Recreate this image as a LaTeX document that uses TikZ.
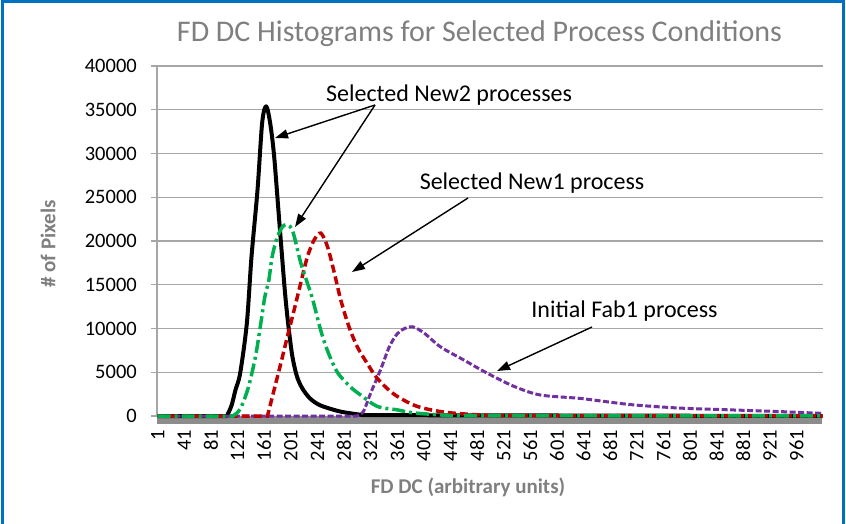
\documentclass[tikz,border=0pt]{standalone}
\usepackage{fontspec}
\setmainfont{Carlito}
\usepackage{tikz}
\usetikzlibrary{arrows.meta}

\definecolor{framblue}{HTML}{0070C0}
\definecolor{titlegray}{HTML}{7F7F7F}
\definecolor{gridgray}{HTML}{A6A6A6}
\definecolor{bargray}{HTML}{8C8C8C}
\definecolor{fabpurple}{HTML}{7030A0}
\definecolor{newred}{HTML}{C00000}
\definecolor{newgreen}{HTML}{00B050}

\tikzset{
  grid line/.style={gridgray, line width=1.2pt},
  ticklabel/.style={font=\fontsize{20.5}{22}\selectfont, text=black, inner sep=0pt},
  axistitle/.style={font=\bfseries\fontsize{21}{23}\selectfont, text=titlegray, inner sep=0pt},
  note/.style={font=\fontsize{24}{26}\selectfont, inner sep=0pt},
  pointer/.style={-{Triangle[length=13pt,width=9pt]}, line width=1.4pt},
  new2solid/.style={black, line width=4pt, line join=round},
  new2dashdot/.style={newgreen, line width=3.5pt, dash pattern=on 13pt off 4pt on 3pt off 4pt},
  new1dash/.style={newred, line width=3.5pt, dash pattern=on 8pt off 4pt},
  fab1dash/.style={fabpurple, line width=3pt, dash pattern=on 6pt off 2.5pt},
}

\begin{document}
\begin{tikzpicture}[x=1pt,y=1pt]
  \useasboundingbox (0,0) rectangle (846,523);
  % chart frame
  \draw[framblue, line width=3pt] (2,-10) -- (2,521) -- (843,521) -- (843,-10);

  \node[font=\fontsize{30}{32}\selectfont, text=titlegray, inner sep=0pt, anchor=base]
    (title) at (479.5,481) {FD DC Histograms for Selected Process Conditions};

  % axis bar under the plot
  \fill[bargray] (157,99) rectangle (822,107);

  \begin{scope}[shift={(157,107)}, x=0.6655pt, y=8.75pt]
    % grid and value axis
    \foreach \v in {5,10,...,40}
      \draw[grid line] (0,\v) -- (1000,\v);
    \draw[grid line] (0,0) -- (0,40);
    \foreach \v/\lbl in {0/0,5/5000,10/10000,15/15000,20/20000,25/25000,30/30000,35/35000,40/40000} {
      \draw[grid line] ([xshift=-6pt]0,\v) -- (0,\v);
      \node[ticklabel, anchor=east] (ylab\v) at ([xshift=-20pt]0,\v) {\lbl};
    }
    % category labels
    \foreach \c in {1,41,...,961}
      \node[ticklabel, rotate=90, anchor=east] (xlab\c) at ([yshift=-14pt]\c,0) {\c};

    % Selected New2, solid run
    \draw[new2solid] (1,0) -- plot[smooth] coordinates {(105,0) (112,1.2) (118,3.0) (125,4.9)
      (135,10.6) (142,18.2) (151,25.8) (158,33.5) (164,35.4) (170,33.5) (176,29.7)
      (184,22.0) (192,14.4) (197,10.6) (203,7.0) (210,4.6) (218,3.2) (230,2.0) (246,1.2)
      (276,0.5) (310,0.1)} -- (1000,0);
    % Initial Fab1
    \draw[fab1dash] (1,0) -- plot[smooth] coordinates {(300,0) (310,0.5) (321,2.6) (336,5.3)
      (349,7.9) (361,9.4) (372,10.0) (384,10.2) (401,9.5) (426,7.9) (461,6.4) (496,4.9)
      (536,3.4) (576,2.4) (637,2.0) (712,1.3) (787,0.9) (862,0.7) (937,0.5) (1000,0.3)};
    % Selected New1
    \draw[new1dash] (1,0) -- plot[smooth] coordinates {(166,0) (176,3.0) (186,6.0) (196,9.1)
      (206,12.1) (216,15.2) (226,18.2) (236,20.1) (246,20.9) (256,19.4) (266,16.5)
      (276,13.3) (288,10.3) (301,7.9) (316,6.0) (331,4.3) (356,2.5) (391,1.1) (436,0.4)
      (500,0.05)} -- (1000,0);
    % Selected New2, dash-dot run
    \draw[new2dashdot] (1,0) -- plot[smooth] coordinates {(114,0) (125,0.8) (137,3.2) (148,6.8)
      (156,10.6) (162,13.6) (168,15.5) (173,18.2) (181,20.5) (191,21.8) (203,21.3)
      (216,17.5) (226,15.2) (234,13.3) (246,9.8) (256,7.5) (271,5.0) (291,3.3) (306,2.4)
      (331,1.1) (361,0.7) (386,0.35) (440,0.05)} -- (1000,0);
  \end{scope}

  \node[axistitle, rotate=90] (ytitle) at (48,279) {\# of Pixels};
  \node[axistitle] (xtitle) at (468,36) {FD DC (arbitrary units)};

  % call-outs
  \node[note, anchor=base] (new2lbl) at (449,421) {Selected New2 processes};
  \node[note, anchor=base] (new1lbl) at (532,333) {Selected New1 process};
  \node[note, anchor=base] (fab1lbl) at (624.5,206) {Initial Fab1 process};
  \coordinate (blacktip) at (275,385);
  \coordinate (greentip) at (295,296);
  \coordinate (redtip) at (352,251);
  \coordinate (purpletip) at (497,152);
  \draw[pointer] ([xshift=-74pt,yshift=-3pt]new2lbl.base) -- (blacktip);
  \draw[pointer] ([xshift=-74pt,yshift=-3pt]new2lbl.base) -- (greentip);
  \draw[pointer] ([xshift=-64pt,yshift=-8pt]new1lbl.base) -- (redtip);
  \draw[pointer] ([xshift=-32.5pt,yshift=-10pt]fab1lbl.base) -- (purpletip);
\end{tikzpicture}
\end{document}
